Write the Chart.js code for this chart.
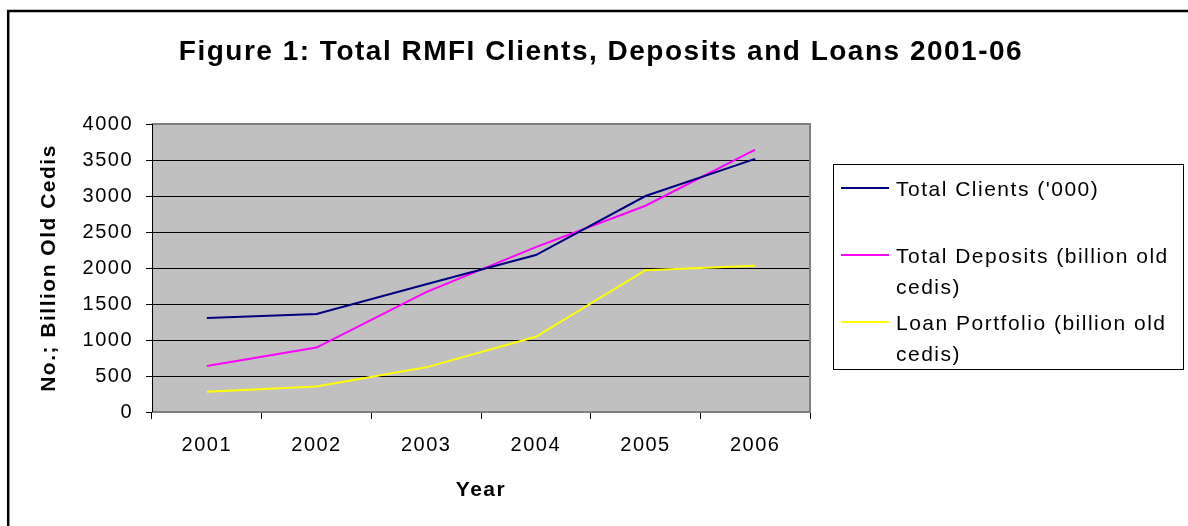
<!DOCTYPE html>
<html>
<head>
<meta charset="utf-8">
<script src="https://cdn.jsdelivr.net/npm/chart.js@4/dist/chart.umd.min.js"></script>
<style>
  html, body { margin: 0; padding: 0; background: #fff; }
  #wrap { width: 1188px; height: 526px; }
</style>
</head>
<body>
<div id="wrap"><canvas id="rmfiChart" width="1188" height="526"></canvas></div>
<script>
const years = ['2001', '2002', '2003', '2004', '2005', '2006'];
const clientsData = [1305, 1360, 1775, 2180, 3000, 3515];
const depositsData = [640, 895, 1665, 2290, 2865, 3645];
const loansData = [280, 355, 620, 1045, 1970, 2030];
const seriesLabels = ["Total Clients ('000)", 'Total Deposits (billion old cedis)', 'Loan Portfolio (billion old cedis)'];
const seriesColors = ['#000080', '#FF00FF', '#FFFF00'];
const titleText = 'Figure 1: Total RMFI Clients, Deposits and Loans 2001-06';

const FONT = "'Liberation Sans', Arial, sans-serif";
const SPACING = '1.5px';
Chart.defaults.font.family = FONT;
Chart.defaults.color = '#000';

// plot background, outer frame, title, border and legend
const excelLook = {
    id: 'excelLook',
    beforeDraw(chart) {
        const ctx = chart.ctx;
        const a = chart.chartArea;
        ctx.letterSpacing = SPACING;
        ctx.save();
        ctx.fillStyle = '#fff';
        ctx.fillRect(0, 0, chart.width, chart.height);
        ctx.fillStyle = '#C0C0C0';
        ctx.fillRect(a.left, a.top, a.right - a.left, a.bottom - a.top);
        // outer frame (runs off the right and bottom edge)
        ctx.strokeStyle = '#000';
        ctx.lineWidth = 2.5;
        ctx.strokeRect(8.2, 11, 2000, 2000);
        // title
        ctx.fillStyle = '#000';
        ctx.font = 'bold 28px ' + FONT;
        ctx.textAlign = 'center';
        ctx.textBaseline = 'alphabetic';
        ctx.fillText(titleText, 601, 60);
        ctx.restore();
    },
    beforeDatasetsDraw(chart) {
        const ctx = chart.ctx;
        const a = chart.chartArea;
        ctx.save();
        ctx.strokeStyle = '#808080';
        ctx.lineWidth = 2;
        ctx.beginPath();
        ctx.moveTo(a.left, a.top);
        ctx.lineTo(a.right, a.top);
        ctx.lineTo(a.right, a.bottom);
        ctx.lineTo(a.left, a.bottom);
        ctx.stroke();
        ctx.strokeStyle = '#000';
        ctx.lineWidth = 1;
        ctx.beginPath();
        ctx.moveTo(a.left + 0.5, a.top);
        ctx.lineTo(a.left + 0.5, a.bottom);
        ctx.stroke();
        ctx.restore();
    },
    afterDraw(chart) {
        const ctx = chart.ctx;
        ctx.save();
        ctx.letterSpacing = SPACING;
        const box = { x: 833, y: 164, w: 350, h: 205 };
        ctx.fillStyle = '#fff';
        ctx.fillRect(box.x, box.y, box.w, box.h);
        ctx.strokeStyle = '#000';
        ctx.lineWidth = 1;
        ctx.strokeRect(box.x + 0.5, box.y + 0.5, box.w, box.h);
        ctx.font = '21px ' + FONT;
        ctx.textAlign = 'left';
        ctx.textBaseline = 'alphabetic';
        const textX = 896, maxW = 295, slot = 67, lineH = 31;
        chart.data.datasets.forEach((ds, i) => {
            const base = 196 + i * slot;
            ctx.strokeStyle = ds.borderColor;
            ctx.lineWidth = 2;
            ctx.beginPath();
            ctx.moveTo(841, base - 8);
            ctx.lineTo(889, base - 8);
            ctx.stroke();
            // wrap the label to the box width
            const words = ds.label.split(' ');
            const lines = [];
            let cur = '';
            words.forEach(w => {
                const test = cur ? cur + ' ' + w : w;
                if (cur && ctx.measureText(test).width > maxW) {
                    lines.push(cur);
                    cur = w;
                } else {
                    cur = test;
                }
            });
            lines.push(cur);
            ctx.fillStyle = '#000';
            lines.forEach((l, j) => ctx.fillText(l, textX, base + j * lineH));
        });
        ctx.restore();
    }
};

const ctx = document.getElementById('rmfiChart').getContext('2d');
const chart = new Chart(ctx, {
    type: 'line',
    data: {
        labels: years,
        datasets: seriesLabels.map((label, i) => ({
            label: label,
            data: [clientsData, depositsData, loansData][i],
            borderColor: seriesColors[i],
            backgroundColor: seriesColors[i],
            borderWidth: 2,
            pointRadius: 0,
            tension: 0,
            fill: false
        }))
    },
    options: {
        responsive: false,
        animation: false,
        layout: { padding: { left: 0, right: 378, top: 124, bottom: 14 } },
        plugins: {
            legend: { display: false },
            title: { display: false },
            tooltip: { enabled: false }
        },
        scales: {
            x: {
                offset: true,
                afterFit: s => { s.height = 100; },
                grid: { offset: true, drawOnChartArea: false, drawTicks: true, tickLength: 7, color: '#000' },
                border: { display: false },
                ticks: { font: { size: 20 }, padding: 14, color: '#000', maxRotation: 0 },
                title: { display: true, text: 'Year', font: { size: 21, weight: 'bold' }, padding: { top: 4, bottom: 9 }, color: '#000' }
            },
            y: {
                min: 0,
                max: 4000,
                afterFit: s => { s.width = 152; },
                grid: { color: '#000', lineWidth: 1, tickLength: 6 },
                border: { display: false },
                ticks: {
                    stepSize: 500,
                    font: { size: 20 },
                    padding: 13,
                    color: '#000',
                    callback: v => String(v)
                },
                title: { display: true, text: 'No.; Billion Old Cedis', font: { size: 21, weight: 'bold' }, padding: { top: 37, bottom: 0 }, color: '#000' }
            }
        }
    },
    plugins: [excelLook]
});
</script>
</body>
</html>
